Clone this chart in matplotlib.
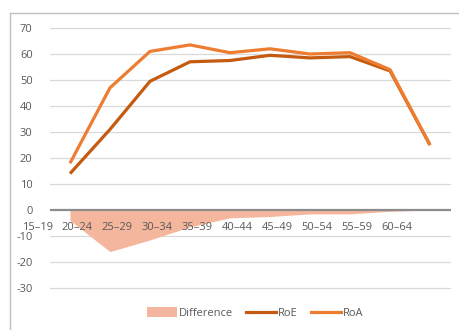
import matplotlib as mpl
import matplotlib.pyplot as plt
from matplotlib.lines import Line2D
from matplotlib.patches import Patch
import numpy as np

mpl.rcParams['font.family'] = ['Open Sans', 'DejaVu Sans']
mpl.rcParams['font.size'] = 8
mpl.rcParams['axes.unicode_minus'] = False

# age groups and rates
age_labels = ['15–19', '20–24', '25–29', '30–34', '35–39',
              '40–44', '45–49', '50–54', '55–59', '60–64']
roe = [14, 31, 49.5, 57, 57.5, 59.5, 58.5, 59, 53.5, 25]
roa = [18, 47, 61, 63.5, 60.5, 62, 60, 60.5, 54, 25]
diff = [e - a for e, a in zip(roe, roa)]
yticks = [-30, -20, -10, 0, 10, 20, 30, 40, 50, 60, 70]

c_roe = '#C55A11'
c_roa = '#ED7D31'
c_diff = '#F4B69C'
c_text = '#595959'
c_grid = '#D9D9D9'

W, H = 460, 330
fig = plt.figure(figsize=(W/100, H/100), dpi=100)
ax = fig.add_axes([50/W, 1-301/H, 401/W, 286/H])

x = np.arange(len(roe))
ax.fill_between(x, diff, 0, color=c_diff, lw=0, zorder=2)
ax.plot(x, roe, color=c_roe, lw=2.3, solid_capstyle='butt', zorder=3)
ax.plot(x, roa, color=c_roa, lw=2.3, solid_capstyle='butt', zorder=4)

ax.set_xlim(-0.5, 9.525)
ax.set_ylim(-35, 75)
for v in yticks:
    if v == 0:
        ax.axhline(0, color='#8C8C8C', lw=1.6, zorder=5)
    else:
        ax.axhline(v, color=c_grid, lw=0.9, zorder=1)

ax.set_xticks([])
ax.set_yticks(yticks)
ax.set_yticklabels([str(v) for v in yticks])
ax.tick_params(axis='y', length=0, pad=12.5, colors=c_text, labelsize=8)
for s in ax.spines.values():
    s.set_visible(False)

# category labels sit left of the points, just under the zero line
for i, lab in enumerate(age_labels):
    ax.text(i - 0.82, -6.6, lab, ha='center', va='center', color=c_text, fontsize=8)

# outer chart border (left and top only visible)
fig.add_artist(Line2D([10/W, 10/W], [0, 1-13/H], color='#BFBFBF', lw=1))
fig.add_artist(Line2D([10/W, 1], [1-13/H, 1-13/H], color='#BFBFBF', lw=1))

handles = [Patch(facecolor=c_diff, edgecolor='none'),
           Line2D([], [], color=c_roe, lw=2.3),
           Line2D([], [], color=c_roa, lw=2.3)]
fig.legend(handles, ['Difference', 'RoE', 'RoA'], ncol=3, frameon=False,
           loc='center', bbox_to_anchor=(255/W, 1-313/H), handlelength=2.7,
           handleheight=0.9, handletextpad=0.15, columnspacing=1.2,
           labelcolor=c_text, fontsize=8)

fig.savefig('out.png', dpi=100)
